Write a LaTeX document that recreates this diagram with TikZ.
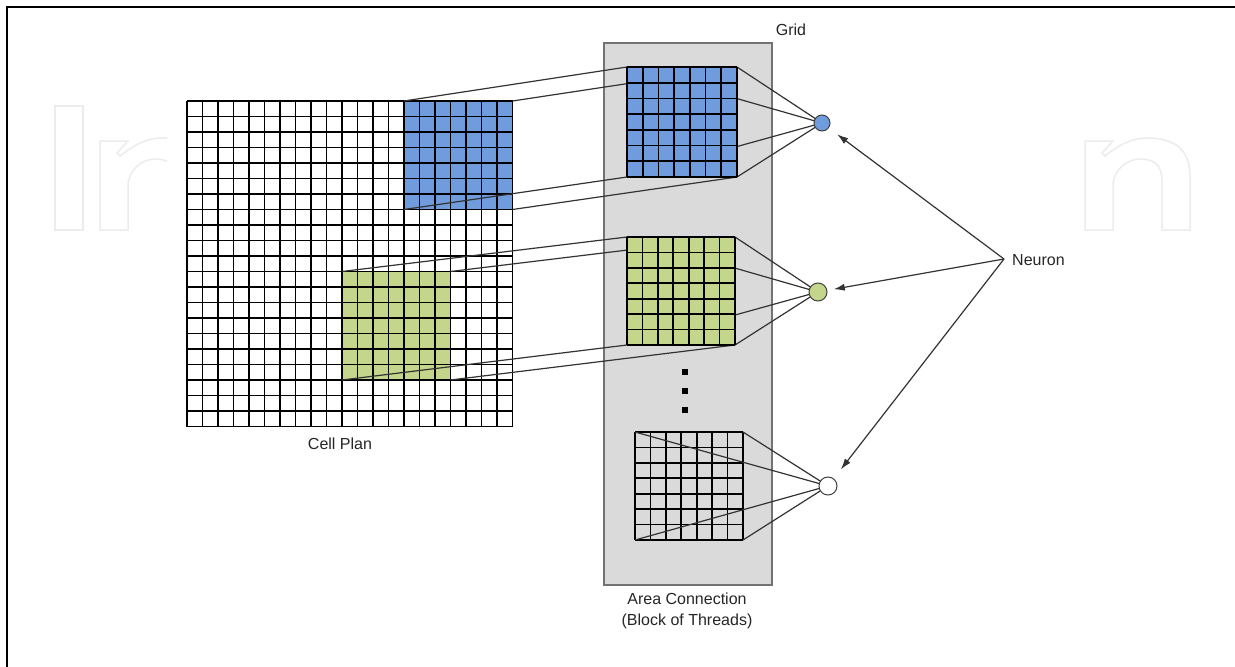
\documentclass[tikz,border=0pt]{standalone}
\usepackage{fontspec}
\setmainfont{Liberation Sans}
\usetikzlibrary{arrows.meta}
\definecolor{cblue}{RGB}{112,156,222}
\definecolor{cgreen}{RGB}{196,214,140}
\definecolor{panelgray}{RGB}{218,218,218}
\definecolor{wmark}{RGB}{236,236,236}
\newcommand\mygrid[4]{\foreach \i in {0,...,#4}{%
  \draw[gl] ({#1+\i*#3/#4},#2) -- ({#1+\i*#3/#4},{#2+#3});
  \draw[gl] (#1,{#2+\i*#3/#4}) -- ({#1+#3},{#2+\i*#3/#4});}}
\newcommand\wmnpath{(0,92) -- (0,3) -- (28,3) -- (17,15) -- (20,18) .. controls (35,6) and (48,0) .. (62,0) .. controls (90,0) and (105,12) .. (105,38) -- (105,92) -- (77,92) -- (77,42) .. controls (77,28) and (70,21) .. (55,21) .. controls (42,21) and (28,32) .. (28,48) -- (28,92) -- cycle}
\begin{document}
\begin{tikzpicture}[x=1pt,y=-1pt,
  gl/.style={line width=1.6pt,black},
  conn/.style={line width=1.2pt,black!80},
  neuron/.style={circle,draw=black!75,line width=1pt,inner sep=0pt},
  lbl/.style={font=\fontsize{16}{21}\selectfont,text=black!85,inner sep=0pt},
  arr/.style={line width=1.2pt,black!80,-{Latex[length=11pt,width=7pt]}},
  dotbox/.style={rectangle,fill=black,minimum size=5.5pt,inner sep=0pt}]
\useasboundingbox (0,0) rectangle (1235,667);
\fill[white] (0,0) rectangle (1235,667);
% frame
\draw[line width=2pt] (7,667) -- (7,7) -- (1235,7);
% watermark
\begin{scope}[draw=wmark,line width=1.5pt]
  \draw (55,106) rectangle (83,230);
  \begin{scope}
    \clip (90,100) rectangle (167,240);
    \draw[shift={(100,138)}] \wmnpath;
  \end{scope}
  \draw[shift={(1085,138)}] \wmnpath;
\end{scope}
% panel
\node[draw=black!55,fill=panelgray,line width=1.2pt,minimum width=168pt,minimum height=542pt,inner sep=0pt] (panel) at (688,314) {};
% cell plan
\fill[white] (187,101) rectangle (512.5,426.5);
\fill[cblue] (404,101) rectangle (512.5,209.5);
\fill[cgreen] (342,271.5) rectangle (450.5,380);
\mygrid{187}{101}{325.5}{21}
% corners
\coordinate (bTL) at (404,101);   \coordinate (bTR) at (512.5,101);
\coordinate (bBL) at (404,209.5); \coordinate (bBR) at (512.5,209.5);
\coordinate (gTL) at (342,271.5); \coordinate (gTR) at (450.5,271.5);
\coordinate (gBL) at (342,380);   \coordinate (gBR) at (450.5,380);
\coordinate (sbTL) at (627,67);  \coordinate (sbTR) at (737,67);
\coordinate (sbBL) at (627,177); \coordinate (sbBR) at (737,177);
\coordinate (sgTL) at (627,237); \coordinate (sgTR) at (735,237);
\coordinate (sgBL) at (627,345); \coordinate (sgBR) at (735,345);
\coordinate (swTL) at (635,432); \coordinate (swTR) at (743,432);
\coordinate (swBL) at (635,540); \coordinate (swBR) at (743,540);
\coordinate (bnc) at (822,123);
\coordinate (gnc) at (818,292);
\coordinate (wnc) at (828,486);
% connectors
\foreach \c in {TL,TR,BL,BR}{
  \draw[conn] (b\c) -- (sb\c);
  \draw[conn] (g\c) -- (sg\c);
  \draw[conn] (sb\c) -- (bnc);
  \draw[conn] (sg\c) -- (gnc);
}
% small grids
\fill[cblue] (627,67) rectangle (737,177);
\mygrid{627}{67}{110}{7}
\fill[cgreen] (627,237) rectangle (735,345);
\mygrid{627}{237}{108}{7}
\mygrid{635}{432}{108}{7}
\foreach \c in {TL,TR,BL,BR}{\draw[conn] (sw\c) -- (wnc);}
% dots
\node[dotbox] (d1) at (685,372) {};
\node[dotbox] (d2) at (685,391) {};
\node[dotbox] (d3) at (685,410) {};
% neurons
\node[neuron,fill=cblue,minimum size=16pt] (bn) at (bnc) {};
\node[neuron,fill=cgreen,minimum size=18pt] (gn) at (gnc) {};
\node[neuron,fill=white,minimum size=18pt] (wn) at (wnc) {};
% labels
\node[lbl] (gridlbl) at (791,30) {Grid};
\node[lbl] (celllbl) at (340,444) {Cell Plan};
\node[lbl,align=center] (arealbl) at (687,611) {Area Connection\\(Block of Threads)};
\node[lbl,anchor=west] (nlbl) at (1012,260) {Neuron};
\coordinate (nsrc) at (1004,259);
\draw[arr,shorten >=19pt] (nsrc) -- (bnc);
\draw[arr,shorten >=16pt] (nsrc) -- (gnc);
\draw[arr,shorten >=21pt] (nsrc) -- (wnc);
\end{tikzpicture}
\end{document}
